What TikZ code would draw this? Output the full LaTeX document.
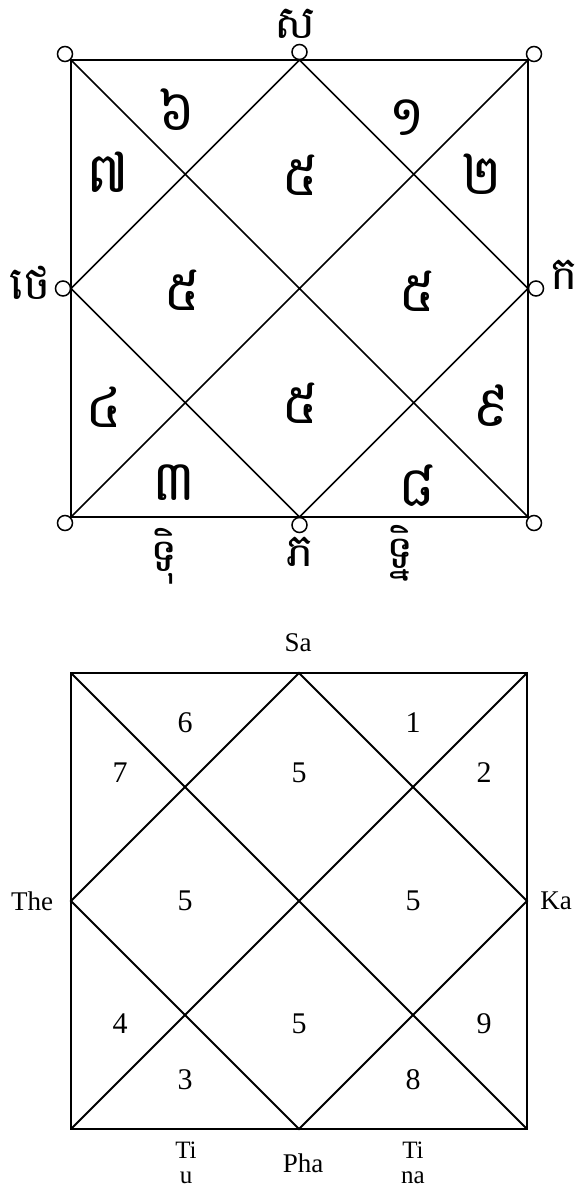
\documentclass[tikz,border=0pt]{standalone}
\usepackage{fontspec}
\setmainfont{Liberation Serif}
\newfontfamily\khmerfont[Script=Khmer]{Battambang}
\usetikzlibrary{positioning}

\begin{document}
\begin{tikzpicture}[
    x=1pt, y=-1pt,
    hand line/.style={
        draw=black,
        line width=1.7pt
    },
    print border/.style={
        draw=black,
        line width=2.4pt
    },
    print line/.style={
        draw=black,
        line width=1.8pt
    },
    ring/.style={
        circle,
        draw=black,
        line width=1.5pt,
        minimum size=15pt,
        inner sep=0pt
    },
    khmer digit/.style={
        inner sep=0pt,
        font=\khmerfont\fontsize{56}{56}\selectfont
    },
    khmer letter/.style={
        inner sep=0pt,
        font=\khmerfont\fontsize{46}{46}\selectfont
    },
    digit/.style={
        inner sep=0pt,
        font=\fontsize{30}{30}\selectfont
    },
    side name/.style={
        inner sep=0pt,
        align=center,
        font=\fontsize{27}{27}\selectfont
    },
    stack name/.style={
        inner sep=0pt,
        font=\fontsize{25}{25}\selectfont
    }
]
    \useasboundingbox (0,0) rectangle (584,1188);

    % handwritten chart
    \coordinate (h-tl) at (71,60);
    \coordinate (h-tr) at (528,60);
    \coordinate (h-bl) at (71,517);
    \coordinate (h-br) at (528,517);
    \coordinate (h-t) at (299.5,60);
    \coordinate (h-l) at (71,288.5);
    \coordinate (h-r) at (528,288.5);
    \coordinate (h-b) at (299.5,517);

    \draw[hand line] (h-tl) rectangle (h-br);
    \draw[hand line] (h-tl) -- (h-br) (h-tr) -- (h-bl);
    \draw[hand line] (h-t) -- (h-r) -- (h-b) -- (h-l) -- cycle;

    \node[ring] (ring-tl) at (65,54) {};
    \node[ring] (ring-tr) at (534,54) {};
    \node[ring] (ring-bl) at (65,523) {};
    \node[ring] (ring-br) at (534,523) {};
    \node[ring] (ring-t) at (299.5,52) {};
    \node[ring] (ring-l) at (63,288.5) {};
    \node[ring] (ring-r) at (536,288.5) {};
    \node[ring] (ring-b) at (299.5,525) {};

    \node[khmer letter] (h-sa) at (295,24) {ស};
    \node[khmer letter] (h-the) at (30,283) {ថេ};
    \node[khmer letter] (h-ka) at (564,275) {ក};
    \node[khmer letter] (h-tiu) at (164,556) {ទុិ};
    \node[khmer letter] (h-pha) at (300,552) {ភ};
    \node[khmer letter] (h-tina) at (400,553) {ទ្និ};

    \node[khmer digit] (h-six) at (177,110) {៦};
    \node[khmer digit] (h-one) at (407,118) {១};
    \node[khmer digit] (h-seven) at (108,172) {៧};
    \node[khmer digit] (h-five-a) at (300,175) {៥};
    \node[khmer digit] (h-two) at (482,174) {២};
    \node[khmer digit] (h-five-b) at (182,290) {៥};
    \node[khmer digit] (h-five-c) at (417,291) {៥};
    \node[khmer digit] (h-four) at (104,407) {៤};
    \node[khmer digit] (h-five-d) at (300,403) {៥};
    \node[khmer digit] (h-nine) at (491,406) {៩};
    \node[khmer digit] (h-three) at (174,483) {៣};
    \node[khmer digit] (h-eight) at (417,486) {៨};

    % printed chart
    \coordinate (p-tl) at (71,673);
    \coordinate (p-tr) at (527,673);
    \coordinate (p-bl) at (71,1129);
    \coordinate (p-br) at (527,1129);
    \coordinate (p-t) at (299,673);
    \coordinate (p-l) at (71,901);
    \coordinate (p-r) at (527,901);
    \coordinate (p-b) at (299,1129);

    \draw[print border] (p-tl) rectangle (p-br);
    \draw[print line] (p-tl) -- (p-br) (p-tr) -- (p-bl);
    \draw[print line] (p-t) -- (p-r) -- (p-b) -- (p-l) -- cycle;

    \node[side name] (p-sa) at (298,643) {Sa};
    \node[side name] (p-the) at (32,901) {The};
    \node[side name] (p-ka) at (556,901) {Ka};
    \node[side name] (p-pha) at (303,1163) {Pha};
    % two-line names under the chart
    \node[stack name, anchor=base] (p-ti-a) at (186,1158) {Ti};
    \node[stack name, anchor=base] (p-u) at (186,1183) {u};
    \node[stack name, anchor=base] (p-ti-b) at (413,1158) {Ti};
    \node[stack name, anchor=base] (p-na) at (413,1183) {na};

    \node[digit] (p-six) at (185,723) {6};
    \node[digit] (p-one) at (413,723) {1};
    \node[digit] (p-seven) at (120,773) {7};
    \node[digit] (p-five-a) at (299,773) {5};
    \node[digit] (p-two) at (484,773) {2};
    \node[digit] (p-five-b) at (185,901) {5};
    \node[digit] (p-five-c) at (413,901) {5};
    \node[digit] (p-four) at (120,1024) {4};
    \node[digit] (p-five-d) at (299,1024) {5};
    \node[digit] (p-nine) at (484,1024) {9};
    \node[digit] (p-three) at (185,1080) {3};
    \node[digit] (p-eight) at (413,1080) {8};
\end{tikzpicture}
\end{document}
